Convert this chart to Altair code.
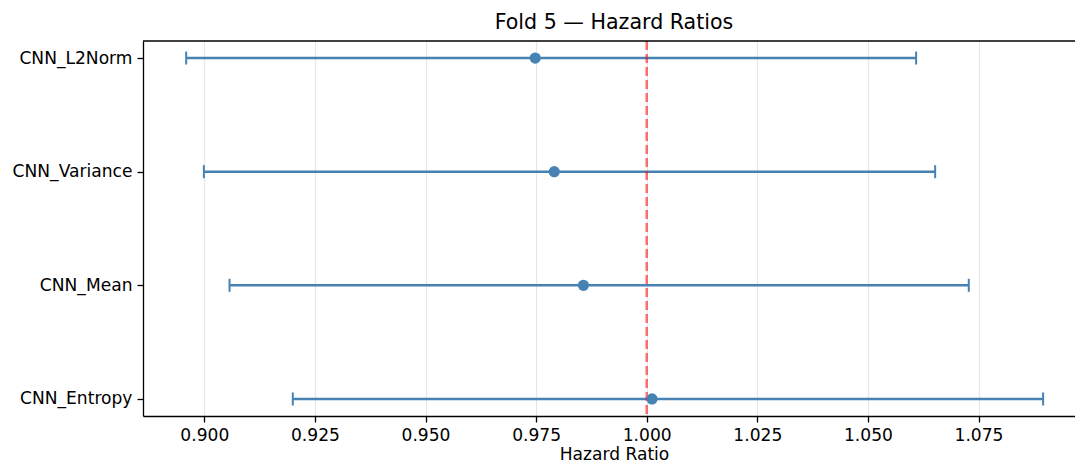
import altair as alt
import pandas as pd

features = ["CNN_L2Norm", "CNN_Variance", "CNN_Mean", "CNN_Entropy"]
hr = [0.9748, 0.9791, 0.9857, 1.0012]
ci_low = [0.8959, 0.8999, 0.9057, 0.9200]
ci_high = [1.0609, 1.0652, 1.0728, 1.0896]
x_ticks = [0.900, 0.925, 0.950, 0.975, 1.000, 1.025, 1.050, 1.075]

df = pd.DataFrame({"feature": features, "hr": hr, "low": ci_low, "high": ci_high})

FONT = "DejaVu Sans"
BLUE = "#4682b4"
W, H = 932, 375

xscale = alt.Scale(domain=[0.88614, 1.09681], nice=False, zero=False)
yscale = alt.Scale(type="point", padding=0.15, domain=features)

xenc = alt.X("low:Q", scale=xscale,
             axis=alt.Axis(values=x_ticks, format=".3f", title="Hazard Ratio",
                           grid=True, gridColor="#e6e6e6", gridWidth=1.2,
                           domainColor="black", domainWidth=1.3,
                           tickColor="black", tickWidth=1.3, tickSize=6,
                           labelPadding=4, labelFontSize=17.1, labelFont=FONT,
                           labelColor="black", titleFontSize=17.1, titleFont=FONT,
                           titleColor="black", titleFontWeight="normal",
                           titlePadding=2, titleX=W / 2 + 5))
yenc = alt.Y("feature:N", scale=yscale,
             axis=alt.Axis(title=None, grid=False, domainColor="black",
                           domainWidth=1.3, tickColor="black", tickWidth=1.3,
                           tickSize=6, labelPadding=5, labelFontSize=17.1,
                           labelFont=FONT, labelColor="black"))

base = alt.Chart(df)

ci = base.mark_rule(color=BLUE, strokeWidth=2.5).encode(x=xenc, x2="high:Q", y=yenc)
cap_lo = base.mark_tick(color=BLUE, size=13, thickness=2, opacity=1).encode(
    x=alt.X("low:Q", scale=xscale), y=alt.Y("feature:N", scale=yscale))
cap_hi = base.mark_tick(color=BLUE, size=13, thickness=2, opacity=1).encode(
    x=alt.X("high:Q", scale=xscale), y=alt.Y("feature:N", scale=yscale))
ref = alt.Chart(pd.DataFrame({"v": [1.0]})).mark_rule(
    color="red", opacity=0.55, strokeWidth=2.5, strokeDash=[9, 4]).encode(
    x=alt.X("v:Q", scale=xscale))
pts = base.mark_circle(color=BLUE, size=125, opacity=1).encode(
    x=alt.X("hr:Q", scale=xscale), y=alt.Y("feature:N", scale=yscale))
top = alt.Chart(pd.DataFrame({"a": [0]})).mark_rule(color="black", strokeWidth=1.3).encode(
    x=alt.value(0), x2=alt.value(W), y=alt.value(0))

chart = alt.layer(ci, cap_lo, cap_hi, ref, pts, top).properties(
    width=W, height=H,
    title=alt.TitleParams("Fold 5 — Hazard Ratios", font=FONT, fontSize=20.6,
                          fontWeight="normal", color="black", offset=6, dx=5),
    autosize=alt.AutoSizeParams(type="none"),
    padding={"left": 135, "top": 33, "right": 0, "bottom": 49},
).configure_view(stroke=None)

chart.save("out.html", embed_options={"renderer": "svg", "actions": False})
